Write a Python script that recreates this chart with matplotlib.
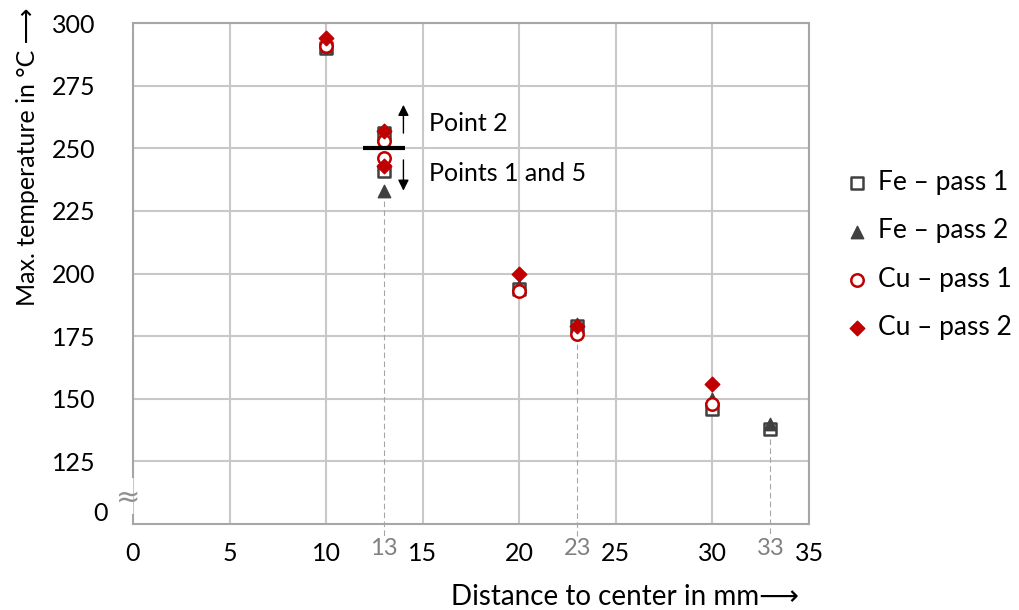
import matplotlib
matplotlib.use("Agg")
import matplotlib.pyplot as plt

plt.rcParams['font.family'] = ['Lato', 'DejaVu Sans']

# ---- data ----
fe1_x = [10, 13, 13, 20, 23, 30, 33]
fe1_y = [290, 256, 241, 194, 179, 146, 138]
fe2_x = [10, 13, 13, 20, 23, 30, 33]
fe2_y = [291, 255, 233, 195, 180, 150, 140]
cu1_x = [10, 13, 13, 20, 23, 30]
cu1_y = [291, 253, 246, 193, 176, 148]
cu2_x = [10, 13, 13, 20, 23, 30]
cu2_y = [294, 257, 243, 200, 179, 156]

x_ticks = [0, 5, 10, 15, 20, 25, 30, 35]
x_extra = [13, 23, 33]
y_ticks = [125, 150, 175, 200, 225, 250, 275, 300]
y_break_label = "0"

labels = ["Fe \u2013 pass 1", "Fe \u2013 pass 2", "Cu \u2013 pass 1", "Cu \u2013 pass 2"]

dark = "#404040"
red = "#c00000"
gridc = "#c8c8c8"
spinec = "#a6a6a6"

fig = plt.figure(figsize=(10.19, 6.10), dpi=100)
ax = fig.add_axes([0.1305, 0.141, 0.6635, 0.821])

ax.set_xlim(0, 35)
ax.set_ylim(100, 300)
ax.set_xticks(x_ticks)
ax.set_yticks(y_ticks)
ax.grid(True, color=gridc, linewidth=1.5)
ax.set_axisbelow(True)
ax.tick_params(length=0, labelsize=18, colors="black")
ax.tick_params(axis='x', pad=13)
ax.tick_params(axis='y', pad=27)
for s in ['top', 'right', 'bottom']:
    ax.spines[s].set_color(spinec)
    ax.spines[s].set_linewidth(1.5)
ax.spines['left'].set_visible(False)
# broken left axis
ax.axvline(0, ymin=0, ymax=0.018, color=spinec, lw=1.5, clip_on=False)
ax.axvline(0, ymin=0.094, ymax=1, color=spinec, lw=1.5, clip_on=False)
ax.text(-0.26, 110.5, "\u2248", ha='center', va='center', fontsize=21,
        color="#909090", family='DejaVu Sans')
ax.text(-1.29, 104.3, y_break_label, ha='right', va='center', fontsize=18)

# gray extra x labels and dashed drop lines
lowest = {13: 233, 23: 176, 33: 138}
for xv in x_extra:
    ax.plot([xv, xv], [lowest[xv] - 4, 95.3], color="#a6a6a6", lw=0.8,
            ls=(0, (5, 3)), clip_on=False, zorder=1)
    ax.text(xv, 90.2, str(xv), ha='center', va='center', fontsize=17, color="#808080")

# data
ax.scatter(fe1_x, fe1_y, marker='s', s=80, facecolors='white', edgecolors=dark,
           linewidths=1.8, label=labels[0], zorder=3)
ax.scatter(fe2_x, fe2_y, marker='^', s=80, color=dark, label=labels[1], zorder=3)
ax.scatter(cu1_x, cu1_y, marker='o', s=80, facecolors='white', edgecolors=red,
           linewidths=1.8, label=labels[2], zorder=3)
ax.scatter(cu2_x, cu2_y, marker='D', s=55, color=red, label=labels[3], zorder=3)

# annotation
ax.plot([11.9, 14.1], [250, 250], color='black', lw=3, zorder=4, solid_capstyle='butt')
ax.annotate("", xy=(14, 268.5), xytext=(14, 255),
            arrowprops=dict(arrowstyle='-|>', color='black', lw=1, mutation_scale=16))
ax.annotate("", xy=(14, 232), xytext=(14, 246.5),
            arrowprops=dict(arrowstyle='-|>', color='black', lw=1, mutation_scale=16))
ax.text(15.3, 260, "Point 2", ha='left', va='center', fontsize=18)
ax.text(15.3, 240, "Points 1 and 5", ha='left', va='center', fontsize=18)

leg = ax.legend(loc='center left', bbox_to_anchor=(1.036, 0.537), frameon=False,
                fontsize=19, handletextpad=0.3, labelspacing=0.88,
                handlelength=1.0, borderaxespad=0)

fig.text(0.027, 0.743, "Max. temperature in \u00b0C \u27f6", rotation=90,
         ha='center', va='center', fontsize=18)
fig.text(0.613, 0.022, "Distance to center in mm\u27f6", ha='center', va='center', fontsize=20)

fig.savefig("out.png", dpi=100)
